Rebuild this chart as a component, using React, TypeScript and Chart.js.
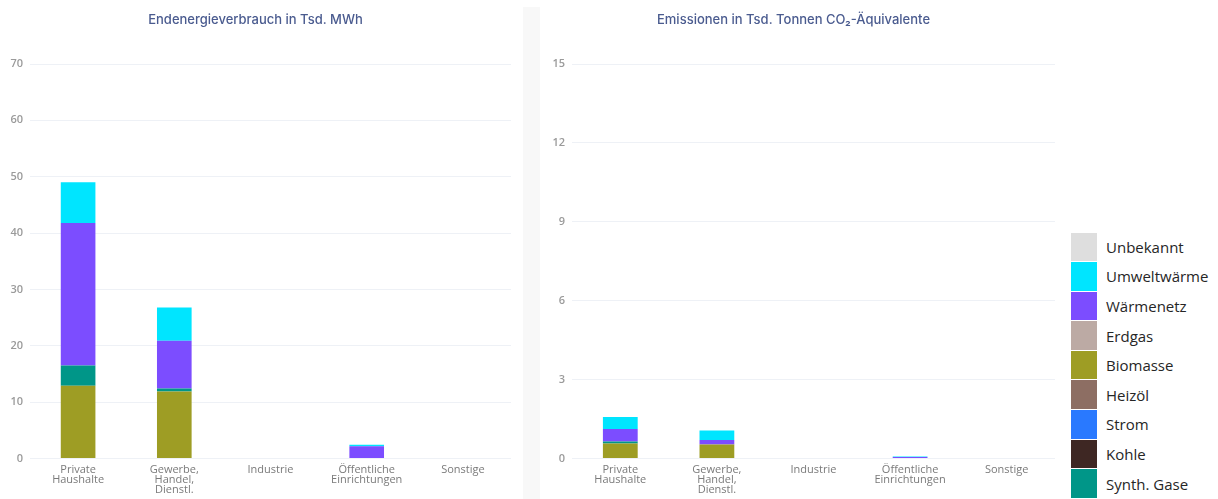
import React, { useEffect, useRef } from "react";
import { Chart, registerables } from "chart.js";

Chart.register(...registerables);

const categories: string[][] = [
  ["Private", "Haushalte"],
  ["Gewerbe,", "Handel,", "Dienstl."],
  ["Industrie"],
  ["Öffentliche", "Einrichtungen"],
  ["Sonstige"],
];

// Legend order (top to bottom)
const legendLabels = ["Unbekannt", "Umweltwärme", "Wärmenetz", "Erdgas", "Biomasse", "Heizöl", "Strom", "Kohle", "Synth. Gase"];
const legendColors = ["#dedede", "#00e5ff", "#7c4dff", "#bcaaa4", "#9e9d24", "#8d6e63", "#2979ff", "#3e2723", "#009688"];

// Stacking order (bottom to top)
const stackOrder = ["Biomasse", "Synth. Gase", "Heizöl", "Erdgas", "Kohle", "Strom", "Wärmenetz", "Umweltwärme", "Unbekannt"];

// Endenergieverbrauch in Tsd. MWh
const energyBiomasse = [12.9, 11.9, 0, 0.08, 0];
const energySynthGase = [3.6, 0.5, 0, 0, 0];
const energyHeizoel = [0, 0, 0, 0, 0];
const energyErdgas = [0, 0, 0, 0, 0];
const energyKohle = [0, 0, 0, 0, 0];
const energyStrom = [0, 0, 0, 0, 0];
const energyWaermenetz = [25.3, 8.5, 0, 2.1, 0];
const energyUmweltwaerme = [7.2, 5.9, 0, 0.25, 0];
const energyUnbekannt = [0, 0, 0, 0, 0];

// Emissionen in Tsd. Tonnen CO2-Äquivalente
const emBiomasse = [0.57, 0.53, 0, 0, 0];
const emSynthGase = [0.08, 0, 0, 0, 0];
const emHeizoel = [0, 0, 0, 0, 0];
const emErdgas = [0, 0, 0, 0, 0];
const emKohle = [0, 0, 0, 0, 0];
const emStrom = [0, 0, 0, 0, 0];
const emWaermenetz = [0.47, 0.17, 0, 0.06, 0];
const emUmweltwaerme = [0.46, 0.36, 0, 0.02, 0];
const emUnbekannt = [0, 0, 0, 0, 0];

const energyTicks = [0, 10, 20, 30, 40, 50, 60, 70];
const emissionTicks = [0, 3, 6, 9, 12, 15];

const energyTitle = "Endenergieverbrauch in Tsd. MWh";
const emissionTitle = "Emissionen in Tsd. Tonnen CO₂-Äquivalente";

function colorOf(name: string) {
  return legendColors[legendLabels.indexOf(name)];
}

function makeDatasets(values: Record<string, number[]>) {
  return stackOrder.map((name) => ({
    label: name,
    data: values[name],
    backgroundColor: colorOf(name),
    borderWidth: 0,
    categoryPercentage: 1,
    barPercentage: 0.36,
  }));
}

function makeConfig(title: string, datasets: any[], ticks: number[], yWidth: number, rightPad: number): any {
  return {
    type: "bar",
    data: { labels: categories, datasets },
    options: {
      animation: false,
      responsive: false,
      maintainAspectRatio: false,
      layout: { padding: { left: 0, right: rightPad, top: 0, bottom: 0 } },
      plugins: {
        legend: { display: false },
        tooltip: { enabled: false },
        title: {
          display: true,
          text: title,
          color: "#4a5b8f",
          font: { family: "Inter", size: 13, weight: "500" },
          padding: { top: 12.5, bottom: 35.9 },
        },
      },
      scales: {
        x: {
          stacked: true,
          grid: { display: false, drawTicks: false },
          border: { display: false },
          ticks: {
            color: "#7a7a7a",
            font: { family: "Open Sans", size: 11, lineHeight: 0.92 },
            padding: 6,
            maxRotation: 0,
            autoSkip: false,
          },
          afterFit: (scale: any) => {
            scale.height = 40.5;
          },
        },
        y: {
          stacked: true,
          min: ticks[0],
          max: ticks[ticks.length - 1],
          afterBuildTicks: (scale: any) => {
            scale.ticks = ticks.map((v) => ({ value: v }));
          },
          grid: { color: "#eef1f6", drawTicks: false, lineWidth: 1 },
          border: { display: false },
          ticks: {
            color: "#9a9a9a",
            font: { family: "Open Sans", size: 11, weight: "600" },
            padding: 7,
          },
          afterFit: (scale: any) => {
            scale.width = yWidth;
          },
        },
      },
    },
  };
}

function ChartCanvas({ config, left, width }: { config: any; left: number; width: number }) {
  const ref = useRef<HTMLCanvasElement | null>(null);
  useEffect(() => {
    if (!ref.current) return;
    const chart = new Chart(ref.current, config);
    return () => chart.destroy();
  }, [config]);
  return (
    <canvas
      ref={ref}
      width={width}
      height={499}
      style={{ position: "absolute", left, top: 0, width, height: 499 }}
    />
  );
}

const energyConfig = makeConfig(
  energyTitle,
  makeDatasets({
    Biomasse: energyBiomasse,
    "Synth. Gase": energySynthGase,
    Heizöl: energyHeizoel,
    Erdgas: energyErdgas,
    Kohle: energyKohle,
    Strom: energyStrom,
    Wärmenetz: energyWaermenetz,
    Umweltwärme: energyUmweltwaerme,
    Unbekannt: energyUnbekannt,
  }),
  energyTicks,
  30,
  12
);

const emissionConfig = makeConfig(
  emissionTitle,
  makeDatasets({
    Biomasse: emBiomasse,
    "Synth. Gase": emSynthGase,
    Heizöl: emHeizoel,
    Erdgas: emErdgas,
    Kohle: emKohle,
    Strom: emStrom,
    Wärmenetz: emWaermenetz,
    Umweltwärme: emUmweltwaerme,
    Unbekannt: emUnbekannt,
  }),
  emissionTicks,
  40,
  0
);

export default function App() {
  return (
    <div
      style={{
        position: "fixed",
        left: 0,
        top: 0,
        width: 1218,
        height: 499,
        background: "#ffffff",
        overflow: "hidden",
      }}
    >
      <div style={{ position: "absolute", left: 523, top: 7, width: 17, height: 492, background: "#f8f8f8" }} />
      <ChartCanvas config={energyConfig} left={0} width={523} />
      <ChartCanvas config={emissionConfig} left={532} width={523} />
      <div style={{ position: "absolute", left: 1071, top: 232, width: 147 }}>
        {legendLabels.map((name, i) => (
          <div key={name} style={{ display: "flex", alignItems: "center", height: 29.6 }}>
            <div style={{ width: 26, height: 28.6, background: legendColors[i], flex: "none" }} />
            <div
              style={{
                marginLeft: 9,
                fontFamily: "'Open Sans', sans-serif",
                fontSize: 15,
                color: "#262626",
                whiteSpace: "nowrap",
              }}
            >
              {name}
            </div>
          </div>
        ))}
      </div>
    </div>
  );
}
